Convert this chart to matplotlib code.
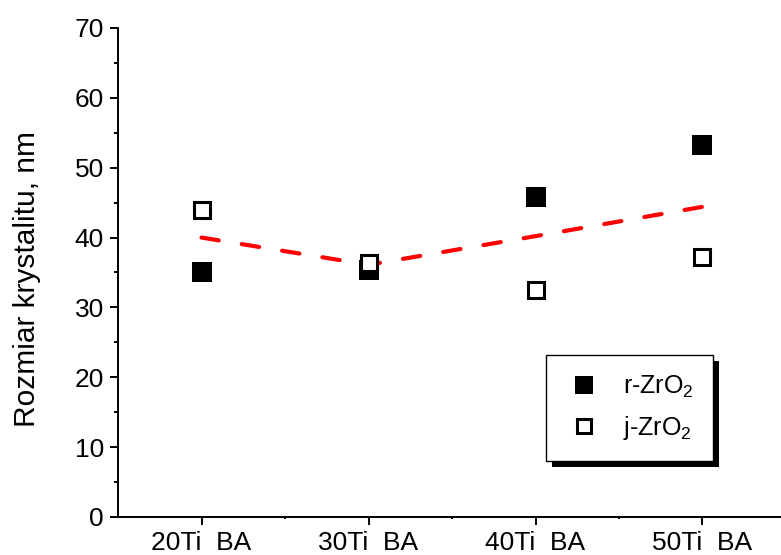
import matplotlib
matplotlib.use("Agg")
import matplotlib.pyplot as plt
from matplotlib.patches import Rectangle
from matplotlib.ticker import MultipleLocator, FixedLocator

plt.rcParams['font.family'] = ['Liberation Sans', 'DejaVu Sans']
plt.rcParams['mathtext.fontset'] = 'custom'
plt.rcParams['mathtext.rm'] = 'Liberation Sans'
plt.rcParams['mathtext.it'] = 'Liberation Sans'

categories = ["20Ti  BA", "30Ti  BA", "40Ti  BA", "50Ti  BA"]
r_zro2 = [35.1, 35.3, 45.8, 53.2]
j_zro2 = [43.9, 36.4, 32.5, 37.2]
trend = [40.0, 36.1, 40.2, 44.4]

x = list(range(1, len(categories) + 1))

fig = plt.figure(figsize=(7.81, 5.55), dpi=100)
ax = fig.add_axes([0.1511, 0.0685, 0.8553, 0.8811])

ax.plot(x, trend, color='red', lw=3, dashes=(4.2, 5.6),
        dash_capstyle='round', solid_capstyle='round', zorder=2)
ax.plot(x, r_zro2, ls='none', marker='s', ms=13.7, mew=0,
        color='black', label='r-ZrO$_\\mathregular{2}$', zorder=3)
ax.plot(x, j_zro2, ls='none', marker='s', ms=11.6, mew=2.2,
        mfc='white', mec='black', label='j-ZrO$_\\mathregular{2}$', zorder=4)

ax.set_xlim(0.5, 4.5)
ax.set_ylim(0, 70)
ax.set_xticks(x)
ax.set_xticklabels(categories)
ax.xaxis.set_minor_locator(FixedLocator([1.5, 2.5, 3.5, 4.5]))
ax.yaxis.set_major_locator(MultipleLocator(10))
ax.yaxis.set_minor_locator(MultipleLocator(5))

for side in ('top', 'right'):
    ax.spines[side].set_visible(False)
for side in ('left', 'bottom'):
    ax.spines[side].set_linewidth(1.4)

ax.tick_params(axis='both', which='major', direction='out', length=6,
               width=1.4, labelsize=19, pad=4)
ax.tick_params(axis='y', which='minor', direction='out', length=3, width=1.4)
ax.tick_params(axis='x', which='minor', direction='out', length=1.2, width=1.4)

ax.set_ylabel("Rozmiar krystalitu, nm", fontsize=21.5)
ax.yaxis.set_label_coords(-0.115, 0.487)

leg = ax.legend(loc='upper left', bbox_to_anchor=(0.640, 0.331),
                fontsize=18, frameon=True, fancybox=False, framealpha=1,
                facecolor='white', edgecolor='black',
                borderpad=0.75, labelspacing=0.55, handlelength=1.6,
                handletextpad=0.75, borderaxespad=0, markerscale=0.9)
leg.get_frame().set_linewidth(1.0)
leg.set_zorder(10)

fig.canvas.draw()
bb = leg.get_window_extent()
off = 6
shadow = Rectangle((bb.x0 + off, bb.y0 - off), bb.width, bb.height,
                   transform=None, facecolor='black', edgecolor='none',
                   zorder=9)
ax.add_artist(shadow)

fig.savefig("out.png", dpi=100)
